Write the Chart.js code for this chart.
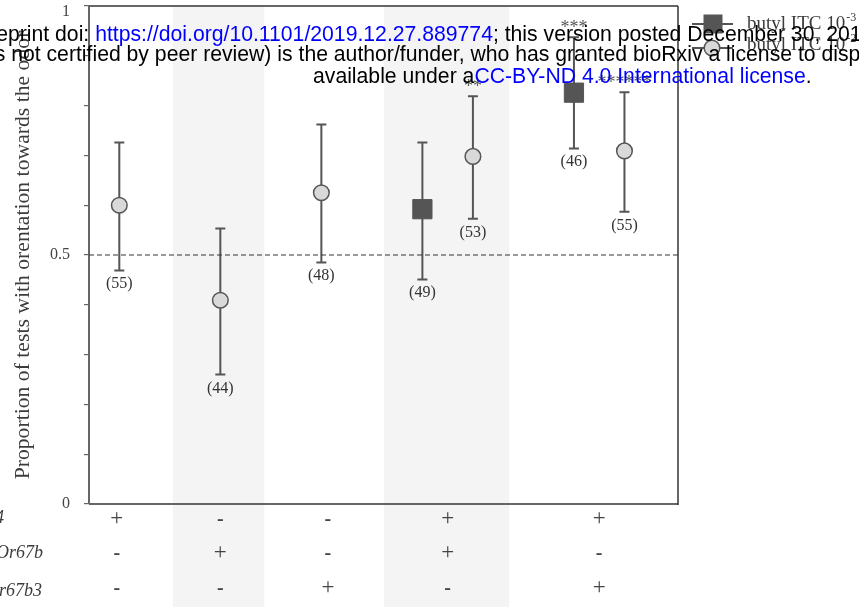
<!DOCTYPE html>
<html>
<head>
<meta charset="utf-8">
<script src="https://cdn.jsdelivr.net/npm/chart.js@4.4.1/dist/chart.umd.min.js"></script>
<style>
  html, body { margin: 0; padding: 0; background: #fff; }
  #wrap { width: 859px; height: 607px; position: relative; }
</style>
</head>
<body>
<div id="wrap"><canvas id="c" width="859" height="607"></canvas></div>
<script>
// ---- data -------------------------------------------------------------
// butyl ITC 10^-2 (circles)
const lowX     = [1, 3, 5, 8, 11];
const lowMean  = [0.600, 0.409, 0.625, 0.698, 0.709];
const lowLo    = [0.469, 0.260, 0.485, 0.573, 0.587];
const lowHi    = [0.726, 0.553, 0.762, 0.819, 0.827];
const lowN     = [55, 44, 48, 53, 55];
const lowStars = ['', '', '', '**', '******'];

// butyl ITC 10^-3 (squares)
const highX     = [7, 10];
const highMean  = [0.592, 0.826];
const highLo    = [0.451, 0.714];
const highHi    = [0.726, 0.937];
const highN     = [49, 46];
const highStars = ['', '***'];

// genotype table under the plot
const genotypeX    = [0.95, 3.0, 5.13, 7.5, 10.5];
const genotypeRows = ['Or67b-Gal4', 'UAS-DmelOr67b', 'UAS-SflaOr67b3'];
const genotypeSigns = [
  ['+', '-', '-', '+', '+'],
  ['-', '+', '-', '+', '-'],
  ['-', '-', '+', '-', '+']
];

// shaded genotype columns (x ranges)
const shadedBands = [[2.06, 3.87], [6.24, 8.72]];

// y axis
const yLabelled = [0, 0.5, 1];
const chanceLevel = 0.5;
const xMin = 0.4, xMax = 12.06;

const legendItems = [
  { text: 'butyl ITC 10', sup: '-3', shape: 'rect' },
  { text: 'butyl ITC 10', sup: '-2', shape: 'circle' }
];

// ---- style ------------------------------------------------------------
const SERIF = '"Liberation Serif", "Times New Roman", serif';
const SANS = '"Liberation Sans", Arial, sans-serif';
const INK = '#555555';
const TEXT = '#3c3c3c';

function drawErrorBar(ctx, x, y, xv, lo, hi) {
  const px = x.getPixelForValue(xv);
  const pLo = y.getPixelForValue(lo), pHi = y.getPixelForValue(hi);
  const cap = 5;
  ctx.beginPath();
  ctx.moveTo(px, pLo); ctx.lineTo(px, pHi);
  ctx.moveTo(px - cap, pLo); ctx.lineTo(px + cap, pLo);
  ctx.moveTo(px - cap, pHi); ctx.lineTo(px + cap, pHi);
  ctx.stroke();
}

function drawSegments(ctx, x, y, segs) {
  let cx = x;
  for (const [t, col] of segs) {
    ctx.fillStyle = col;
    ctx.fillText(t, cx, y);
    cx += ctx.measureText(t).width;
  }
}

const decor = {
  id: 'decor',
  beforeDraw(chart) {
    const { ctx, chartArea, scales: { x } } = chart;
    ctx.save();
    ctx.fillStyle = '#ffffff';
    ctx.fillRect(0, 0, chart.width, chart.height);
    ctx.fillStyle = '#f4f4f4';
    for (const [a, b] of shadedBands) {
      const xa = x.getPixelForValue(a), xb = x.getPixelForValue(b);
      ctx.fillRect(xa, chartArea.top, xb - xa, chart.height - chartArea.top);
    }
    ctx.restore();
  },
  beforeDatasetsDraw(chart) {
    const { ctx, chartArea: ca, scales: { x, y } } = chart;
    ctx.save();
    // frame
    ctx.strokeStyle = '#666';
    ctx.lineWidth = 2;
    ctx.beginPath();
    ctx.moveTo(ca.left, ca.top); ctx.lineTo(ca.right, ca.top);
    ctx.moveTo(ca.left, ca.bottom); ctx.lineTo(ca.right, ca.bottom);
    ctx.stroke();
    ctx.strokeStyle = '#333';
    ctx.lineWidth = 1.5;
    ctx.beginPath();
    ctx.moveTo(ca.right, ca.top); ctx.lineTo(ca.right, ca.bottom + 1);
    ctx.stroke();
    // error bars
    ctx.strokeStyle = INK;
    ctx.lineWidth = 2;
    lowX.forEach((xv, i) => drawErrorBar(ctx, x, y, xv, lowLo[i], lowHi[i]));
    highX.forEach((xv, i) => drawErrorBar(ctx, x, y, xv, highLo[i], highHi[i]));
    ctx.restore();
  },
  afterDraw(chart) {
    const { ctx, scales: { x, y } } = chart;
    ctx.save();
    // top tick label sits just inside the canvas edge
    ctx.font = '16px ' + SERIF;
    ctx.fillStyle = '#444';
    ctx.textAlign = 'right';
    ctx.textBaseline = 'middle';
    ctx.fillText('1', y.right - 5 - 14, y.getPixelForValue(1) + 5.5);

    // sample sizes and significance marks
    ctx.textAlign = 'center';
    ctx.textBaseline = 'alphabetic';
    const annotate = (xs, lo, hi, ns, stars) => {
      xs.forEach((xv, i) => {
        const px = x.getPixelForValue(xv);
        ctx.font = '16px ' + SERIF;
        ctx.fillStyle = '#333';
        ctx.fillText('(' + ns[i] + ')', px, y.getPixelForValue(lo[i]) + 18);
        if (stars[i]) {
          ctx.font = '18px ' + SERIF;
          ctx.fillStyle = INK;
          ctx.fillText(stars[i], px, y.getPixelForValue(hi[i]) - 4);
        }
      });
    };
    annotate(lowX, lowLo, lowHi, lowN, lowStars);
    annotate(highX, highLo, highHi, highN, highStars);

    // genotype table
    const rowBase = [525, 558.5, 594];
    const labelBase = [523, 558, 596];
    const labelRight = [4, 43, 42];
    genotypeRows.forEach((name, r) => {
      ctx.font = 'italic 18px ' + SERIF;
      ctx.fillStyle = TEXT;
      ctx.textAlign = 'right';
      ctx.fillText(name, labelRight[r], labelBase[r]);
      ctx.textAlign = 'center';
      genotypeSigns[r].forEach((s, c) => {
        ctx.font = (s === '+' ? '23px ' : 'bold 20px ') + SERIF;
        ctx.fillStyle = '#444';
        ctx.fillText(s, x.getPixelForValue(genotypeX[c]), rowBase[r]);
      });
    });

    // legend
    const legendRows = [{ my: 24, ty: 29 }, { my: 48, ty: 50 }];
    legendItems.forEach((it, i) => {
      const { my, ty } = legendRows[i];
      ctx.strokeStyle = INK;
      ctx.lineWidth = 2;
      ctx.beginPath();
      ctx.moveTo(692, my); ctx.lineTo(733, my);
      ctx.stroke();
      if (it.shape === 'rect') {
        ctx.fillStyle = INK;
        ctx.fillRect(703.5, my - 9.5, 19, 19);
      } else {
        ctx.beginPath();
        ctx.arc(712, my, 7.8, 0, Math.PI * 2);
        ctx.fillStyle = '#d9d9d9';
        ctx.fill();
        ctx.lineWidth = 1.5;
        ctx.stroke();
      }
      ctx.textAlign = 'left';
      ctx.fillStyle = TEXT;
      ctx.font = '19px ' + SERIF;
      ctx.fillText(it.text, 747, ty);
      const w = ctx.measureText(it.text).width;
      ctx.font = '12px ' + SERIF;
      ctx.fillText(it.sup, 747 + w + 1, ty - 8);
    });

    // preprint notice
    const BLUE = '#0000ff', BLACK = '#000000';
    ctx.font = '21.2px ' + SANS;
    ctx.textAlign = 'left';
    drawSegments(ctx, -98, 41, [
      ['bioRxiv preprint doi: ', BLACK],
      ['https://doi.org/10.1101/2019.12.27.889774', BLUE],
      ['; this version posted December 30, 2019. The copyright holder for this preprint', BLACK]
    ]);
    drawSegments(ctx, -99.5, 60.5, [
      ['(which was not certified by peer review) is the author/funder, who has granted bioRxiv a license to display the preprint in perpetuity. It is made', BLACK]
    ]);
    drawSegments(ctx, 313, 83.3, [
      ['available under a', BLACK],
      ['CC-BY-ND 4.0 International license', BLUE],
      ['.', BLACK]
    ]);
    ctx.restore();
  }
};

const circleStyle = {
  pointStyle: 'circle', pointRadius: 7.8, pointHoverRadius: 7.8,
  pointBackgroundColor: '#d9d9d9', pointBorderColor: INK, pointBorderWidth: 1.5
};
const squareStyle = {
  pointStyle: 'rect', pointRadius: 13.6, pointHoverRadius: 13.6,
  pointBackgroundColor: INK, pointBorderColor: INK, pointBorderWidth: 1
};

new Chart(document.getElementById('c'), {
  type: 'scatter',
  data: {
    datasets: [
      {
        type: 'line',
        label: 'chance',
        data: [{ x: xMin, y: chanceLevel }, { x: xMax, y: chanceLevel }],
        borderColor: '#333', borderWidth: 1, borderDash: [5, 3],
        pointRadius: 0, order: 10
      },
      Object.assign({
        label: 'butyl ITC 10-3',
        data: highX.map((v, i) => ({ x: v, y: highMean[i] })),
        order: 2
      }, squareStyle),
      Object.assign({
        label: 'butyl ITC 10-2',
        data: lowX.map((v, i) => ({ x: v, y: lowMean[i] })),
        order: 1
      }, circleStyle)
    ]
  },
  options: {
    responsive: false,
    animation: false,
    devicePixelRatio: 1,
    layout: { autoPadding: false, padding: { left: 0, top: 6, right: 181, bottom: 103 } },
    plugins: { legend: { display: false }, tooltip: { enabled: false } },
    scales: {
      x: { type: 'linear', min: xMin, max: xMax, display: false },
      y: {
        min: 0, max: 1,
        afterFit(scale) {
          scale.width = 89;
          scale.paddingTop = 0;
          scale.paddingBottom = 0;
        },
        ticks: {
          stepSize: 0.1,
          padding: 14,
          color: '#444',
          font: { family: SERIF, size: 16 },
          callback(v) {
            if (Math.abs(v - 1) < 1e-9) return '';
            const hit = yLabelled.find(t => Math.abs(t - v) < 1e-9);
            return hit === undefined ? '' : String(hit);
          }
        },
        grid: { drawOnChartArea: false, drawTicks: true, tickLength: 5, color: '#666', lineWidth: 1.2 },
        border: { display: true, color: '#666', width: 2 },
        title: {
          display: true,
          text: 'Proportion of tests with orentation towards the odor',
          color: TEXT,
          font: { family: SERIF, size: 21.7 },
          padding: { top: 10, bottom: 0 }
        }
      }
    }
  },
  plugins: [decor]
});
</script>
</body>
</html>
